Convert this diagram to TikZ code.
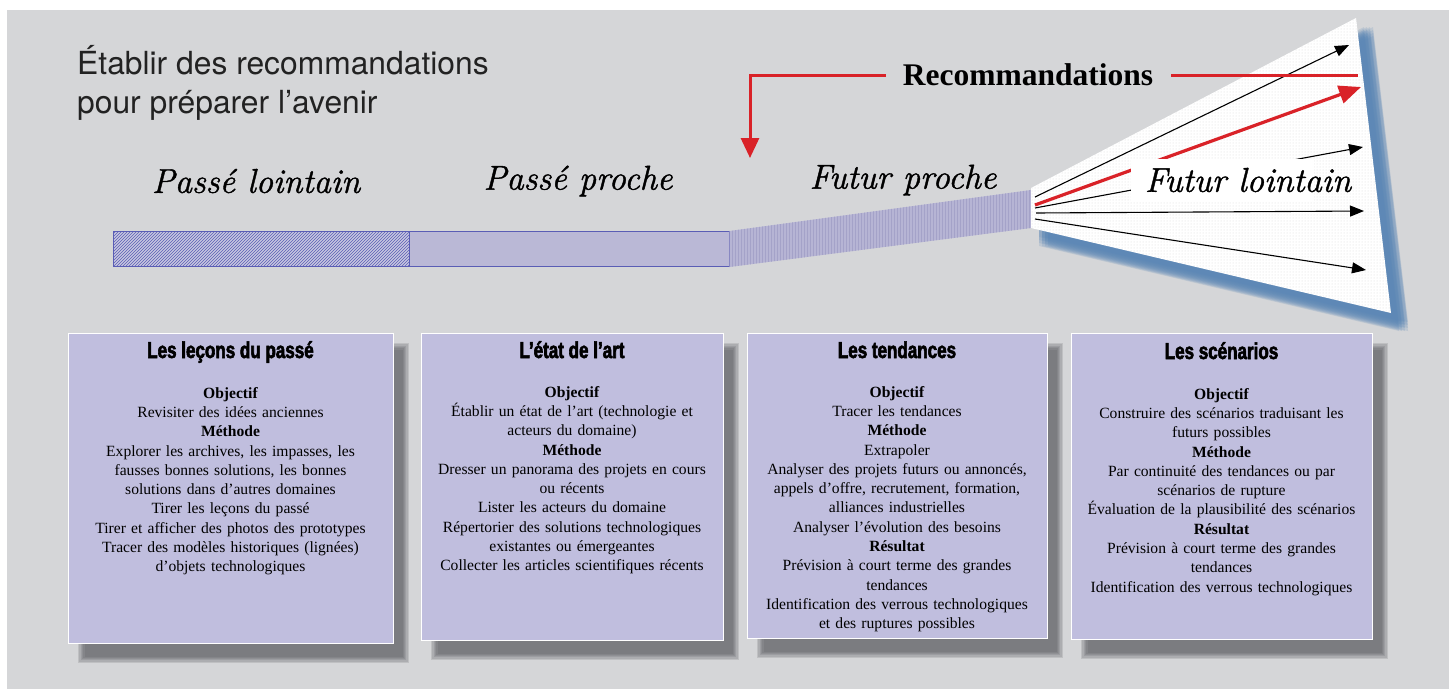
\documentclass[tikz,border=0pt]{standalone}
\usepackage{fontspec}
\setmainfont{Liberation Serif}
\newfontfamily\titlefont{TeX Gyre Heros}
\newfontfamily\impactfont{Liberation Sans}[FakeStretch=0.74,FakeBold=2.5]
\newfontfamily\scriptf{Latin Modern Roman}[FakeBold=1.2]
\usetikzlibrary{arrows.meta,patterns}
\definecolor{bg}{HTML}{D5D6D8}
\definecolor{boxfill}{HTML}{C0BEDE}
\definecolor{barblue}{HTML}{5A5DB5}
\definecolor{lav}{HTML}{BAB8D6}
\definecolor{lavlight}{HTML}{C8C7E0}
\definecolor{band}{HTML}{B6B4D4}
\definecolor{bandline}{HTML}{A4A2C8}
\definecolor{fanshadow}{HTML}{5B87B6}
\definecolor{myred}{HTML}{D92228}
\definecolor{shadowgray}{HTML}{4E4F55}
\definecolor{titlegray}{HTML}{222222}
\newcommand\mysoftshadow[4]{%
  \foreach \k in {0,...,5}{%
    \fill[shadowgray, opacity=0.16] ({#1+10+\k*1.3},{#2+10+\k*1.3}) rectangle ({#3+16-\k*1.3},{#4+20-\k*1.3});
  }%
}
\begin{document}
\begin{tikzpicture}[x=1pt,y=-1pt,
  boxst/.style={draw=white, line width=1pt, fill=boxfill, inner sep=0, anchor=north west},
  ttl/.style={font=\impactfont\bfseries\fontsize{23}{26}\selectfont, anchor=base, inner sep=0},
  body/.style={font=\fontsize{15.6}{19.3}\selectfont, align=center, anchor=north, inner sep=0, text=black},
  lbl/.style={font=\scriptf\itshape\fontsize{34.5}{38}\selectfont, inner sep=0},
  blk/.style={-{Triangle[length=14pt,width=11pt]}, line width=1.1pt},
  redar/.style={-{Triangle[length=22pt,width=18pt]}, line width=3.2pt, draw=myred, color=myred},
  redline/.style={line width=3pt, draw=myred},
]
\useasboundingbox (0,0) rectangle (1449,689);
\fill[white] (0,0) rectangle (1449,689);
\fill[bg] (7,10) rectangle (1449,689);

% title
\node[anchor=base west, inner sep=0, font=\titlefont\fontsize{31.8}{38}\selectfont, text=titlegray] (title1) at (77,74) {Établir des recommandations};
\node[anchor=base west, inner sep=0, font=\titlefont\fontsize{31.8}{38}\selectfont, text=titlegray] (title2) at (77,113) {pour préparer l’avenir};

% timeline bar
\path[draw=barblue, line width=1pt, preaction={fill=lavlight}, pattern={north east lines}, pattern color=barblue] (113,231) rectangle (409,266);
\path[draw=barblue, line width=1pt, fill=lav] (409,231) rectangle (729,266);
\path[preaction={fill=band}, pattern={vertical lines}, pattern color=bandline] (729.5,231) -- (1031,190) -- (1031,228) -- (729.5,267) -- cycle;

% fan shadow
\foreach \dx in {8,11,14,17}{
  \foreach \dy in {9,12,15,18}{
    \fill[fanshadow, opacity=0.18] ({1031+\dx},{188+\dy}) -- ({1356+\dx},{18+\dy}) -- ({1391+\dx},{313+\dy}) -- ({1031+\dx},{228+\dy}) -- cycle;
  }
}
% fan
\path[preaction={fill=white}, pattern=dots, pattern color=gray!30] (1031,188) -- (1356,18) -- (1391,313) -- (1031,228) -- cycle;

% arrows of the fan
\coordinate (o1) at (1035,197);
\coordinate (o2) at (1035,205);
\coordinate (o3) at (1035,208);
\coordinate (o4) at (1036,213);
\coordinate (o5) at (1035,219);
\coordinate (t1) at (1349,45);
\coordinate (t2) at (1361,87);
\coordinate (t3) at (1363,147);
\coordinate (t4) at (1364,211);
\coordinate (t5) at (1366,270);
\draw[blk] (o1) -- (t1);
\draw[blk] (o3) -- (t3);
\draw[blk] (o4) -- (t4);
\draw[blk] (o5) -- (t5);
\draw[redar] (o2) -- (t2);

% labels
\node[lbl] (pl) at (256,181) {Passé lointain};
\node[lbl] (pp) at (578,181) {Passé proche};
\node[lbl] (fp) at (903,180) {Futur proche};
\node[fill=white, inner sep=0, minimum width=183, minimum height=43] (flbox) at (1222.5,180.5) {};
\node[lbl] (fl) at (1248,180) {Futur lointain};

% recommandations
\node[inner sep=0, font=\bfseries\fontsize{31.5}{34}\selectfont] (rec) at (1028,75) {Recommandations};
\coordinate (r1) at (886,75);
\coordinate (rc) at (750,75);
\coordinate (rt) at (750,158);
\coordinate (r2) at (1171,75);
\coordinate (r3) at (1358,75);
\draw[redline, -{Triangle[length=20pt,width=18pt]}, color=myred] (r1) -- (rc) -- (rt);
\draw[redline] (r2) -- (r3);

% boxes
\mysoftshadow{68}{333}{393}{643}
\mysoftshadow{421}{333}{723}{640}
\mysoftshadow{747}{333}{1047}{638}
\mysoftshadow{1071}{333}{1372}{639}
\node[boxst, minimum width=325, minimum height=310] (b1) at (68,333) {};
\node[boxst, minimum width=302, minimum height=307] (b2) at (421,333) {};
\node[boxst, minimum width=300, minimum height=305] (b3) at (747,333) {};
\node[boxst, minimum width=301, minimum height=306] (b4) at (1071,333) {};

\node[ttl] (h1) at (230.5,358) {Les leçons du passé};
\node[ttl] (h2) at (572,358) {L’état de l’art};
\node[ttl] (h3) at (897,358) {Les tendances};
\node[ttl] (h4) at (1221.5,359) {Les scénarios};

\node[body, text width=322] (d1) at (230.5,387) {\textbf{Objectif}\\Revisiter des idées anciennes\\\textbf{Méthode}\\Explorer les archives, les impasses, les\\fausses bonnes solutions, les bonnes\\solutions dans d’autres domaines\\Tirer les leçons du passé\\Tirer et afficher des photos des prototypes\\Tracer des modèles historiques (lignées)\\d’objets technologiques};
\node[body, text width=300] (d2) at (572,386) {\textbf{Objectif}\\Établir un état de l’art (technologie et\\acteurs du domaine)\\\textbf{Méthode}\\Dresser un panorama des projets en cours\\ou récents\\Lister les acteurs du domaine\\Répertorier des solutions technologiques\\existantes ou émergeantes\\Collecter les articles scientifiques récents};
\node[body, text width=298] (d3) at (897,386) {\textbf{Objectif}\\Tracer les tendances\\\textbf{Méthode}\\Extrapoler\\Analyser des projets futurs ou annoncés,\\appels d’offre, recrutement, formation,\\alliances industrielles\\Analyser l’évolution des besoins\\\textbf{Résultat}\\Prévision à court terme des grandes\\tendances\\Identification des verrous technologiques\\et des ruptures possibles};
\node[body, text width=299] (d4) at (1221.5,388) {\textbf{Objectif}\\Construire des scénarios traduisant les\\futurs possibles\\\textbf{Méthode}\\Par continuité des tendances ou par\\scénarios de rupture\\Évaluation de la plausibilité des scénarios\\\textbf{Résultat}\\Prévision à court terme des grandes\\tendances\\Identification des verrous technologiques};
\end{tikzpicture}
\end{document}
